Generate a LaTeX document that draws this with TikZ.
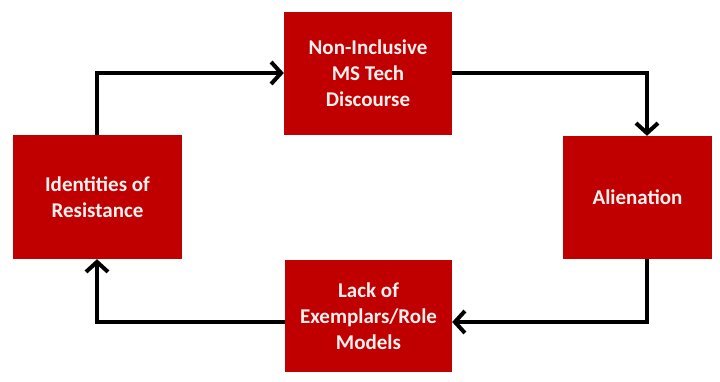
\documentclass[tikz,border=0pt]{standalone}
\usepackage{fontspec}
\setmainfont{Carlito}
\usetikzlibrary{arrows.meta}
\definecolor{boxred}{RGB}{192,0,0}
\definecolor{txt}{RGB}{255,240,240}
\begin{document}
\begin{tikzpicture}[x=1pt,y=-1pt,
  redbox/.style={fill=boxred,draw=none,inner sep=0pt,
    text=txt,font=\bfseries\fontsize{21}{26}\selectfont,align=center},
  conn/.style={line width=4pt,draw=black,-{Straight Barb[length=10pt,width=22pt,line width=4pt]}}]
\useasboundingbox (0,0) rectangle (720,381);
\fill[white] (0,0) rectangle (720,381);
\node[redbox,minimum width=168pt,minimum height=123pt] (top) at (368,73.5) {Non-Inclusive\\MS Tech\\Discourse};
\node[redbox,minimum width=169pt,minimum height=124pt] (left) at (97.5,197) {Identities of\\Resistance};
\node[redbox,minimum width=149pt,minimum height=123pt] (right) at (637.5,197.5) {Alienation};
\node[redbox,minimum width=167pt,minimum height=112pt] (bottom) at (368.5,316) {Lack of\\Exemplars/Role\\Models};
\coordinate (c1) at (97,73);
\coordinate (c2) at (647,73);
\coordinate (c3) at (647,322);
\coordinate (c4) at (97,322);
\draw[conn] (left.north -| c1) |- (top.west |- c1);
\draw[conn] (top.east |- c2) -| (right.north -| c2);
\draw[conn] (right.south -| c3) |- (bottom.east |- c3);
\draw[conn] (bottom.west |- c4) -| (left.south -| c4);
\end{tikzpicture}
\end{document}
